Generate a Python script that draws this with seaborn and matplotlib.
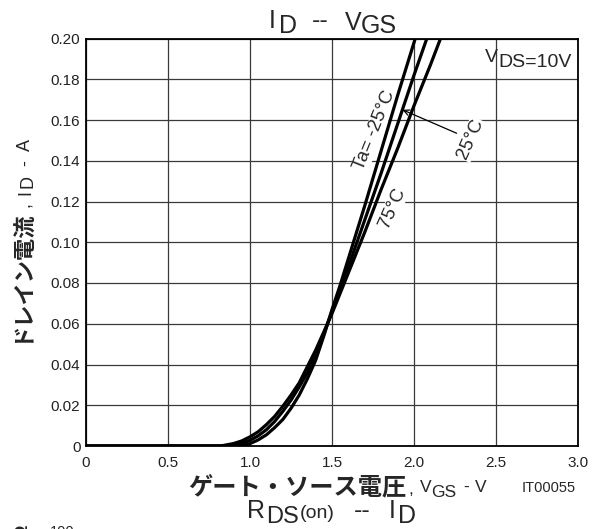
import matplotlib
matplotlib.use("Agg")
import matplotlib.pyplot as plt
import numpy as np
import pandas as pd
import seaborn as sns

# ---------------- data ----------------
vgs_m25 = [0.0, 0.95, 1.0, 1.05, 1.1, 1.15, 1.2, 1.25, 1.3, 1.35, 1.4, 1.45, 1.5, 1.55, 1.6, 1.7, 1.8, 1.9, 2.0, 2.05]
id_m25 = [0.0, 0.0, 0.0012, 0.003, 0.0055, 0.009, 0.013, 0.0185, 0.025, 0.033, 0.042, 0.054, 0.067, 0.079, 0.092, 0.118, 0.145, 0.172, 0.198, 0.211]

vgs_25 = [0.0, 0.88, 0.95, 1.0, 1.05, 1.1, 1.15, 1.2, 1.25, 1.3, 1.35, 1.4, 1.45, 1.5, 1.55, 1.6, 1.7, 1.8, 1.9, 2.0, 2.1]
id_25 = [0.0, 0.0, 0.0012, 0.0028, 0.005, 0.008, 0.012, 0.017, 0.0225, 0.029, 0.036, 0.045, 0.055, 0.066, 0.077, 0.088, 0.111, 0.134, 0.158, 0.182, 0.205]

vgs_75 = [0.0, 0.82, 0.9, 0.95, 1.0, 1.05, 1.1, 1.15, 1.2, 1.25, 1.3, 1.35, 1.4, 1.45, 1.5, 1.55, 1.6, 1.7, 1.8, 1.9, 2.0, 2.1, 2.2]
id_75 = [0.0, 0.0, 0.0012, 0.0025, 0.0045, 0.007, 0.0105, 0.0145, 0.0195, 0.025, 0.031, 0.039, 0.047, 0.056, 0.065, 0.075, 0.085, 0.105, 0.126, 0.146, 0.167, 0.187, 0.208]

temps = ["-25", "25", "75"]
xticks = [0, 0.5, 1.0, 1.5, 2.0, 2.5, 3.0]
xtick_labels = ["0", "0.5", "1.0", "1.5", "2.0", "2.5", "3.0"]
yticks = [0, 0.02, 0.04, 0.06, 0.08, 0.10, 0.12, 0.14, 0.16, 0.18, 0.20]
ytick_labels = ["0", "0.02", "0.04", "0.06", "0.08", "0.10", "0.12", "0.14", "0.16", "0.18", "0.20"]

df = pd.concat([
    pd.DataFrame({"vgs": vgs_m25, "id": id_m25, "temp": temps[0]}),
    pd.DataFrame({"vgs": vgs_25, "id": id_25, "temp": temps[1]}),
    pd.DataFrame({"vgs": vgs_75, "id": id_75, "temp": temps[2]}),
], ignore_index=True)

# ---------------- figure ----------------
sns.set_style("white")
plt.rcParams["font.family"] = ["Liberation Sans", "Noto Sans CJK JP", "DejaVu Sans"]
JP = ["Noto Sans CJK JP"]

W, H = 599, 529
fig = plt.figure(figsize=(W / 100, H / 100), dpi=100)
ax = fig.add_axes([86 / W, 1 - 446 / H, (578 - 86) / W, (446 - 38.5) / H])

sns.lineplot(data=df, x="vgs", y="id", hue="temp", palette={t: "black" for t in temps},
             estimator=None, sort=False, legend=False, lw=2.3, ax=ax, zorder=3)

ax.set_xlim(0, 3)
ax.set_ylim(0, 0.2)
ax.set_xticks(xticks)
ax.set_xticklabels(xtick_labels)
ax.set_yticks(yticks)
ax.set_yticklabels(ytick_labels)
ax.grid(True, color="#3a3a3a", lw=0.9)
ax.set_axisbelow(True)
ax.tick_params(axis="both", length=0, labelsize=11, colors="#222222")
ax.tick_params(axis="x", pad=7)
ax.tick_params(axis="y", pad=4)
for s in ax.spines.values():
    s.set_color("black")
    s.set_linewidth(1.3)
ax.set_xlabel("")
ax.set_ylabel("")

# curve labels
bb = dict(fc="white", ec="none", pad=0.6)
ax.text(1.76, 0.155, "Ta= -25°C", rotation=68, ha="center", va="center", fontsize=13.5,
        rotation_mode="anchor", bbox=bb, zorder=2.5)
ax.text(2.345, 0.1505, "25°C", rotation=66, ha="center", va="center", fontsize=13.5,
        rotation_mode="anchor", bbox=bb, zorder=2.5)
ax.text(1.87, 0.1168, "75°C", rotation=66, ha="center", va="center", fontsize=13.5,
        rotation_mode="anchor", bbox=bb, zorder=2.5)
ax.annotate("", xy=(1.93, 0.165), xytext=(2.26, 0.1535),
            arrowprops=dict(arrowstyle="->", lw=0.9, color="black", shrinkA=0, shrinkB=0), zorder=4)

# ---------------- text runs with shifted subscripts ----------------
renderer = fig.canvas.get_renderer()


def run(pieces, start, base, rot=False):
    pos = start
    for s, size, weight, dy, gap, fam in pieces:
        kw = dict(fontsize=size, fontweight=weight)
        if fam is not None:
            kw["family"] = fam
        if not rot:
            pos += gap
            t = fig.text(pos / W, 1 - (base + dy) / H, s, ha="left", va="baseline", **kw)
            pos += t.get_window_extent(renderer).width
        else:
            pos -= gap
            t = fig.text((base + dy) / W, 1 - pos / H, s, rotation=90, rotation_mode="anchor",
                         ha="left", va="baseline", **kw)
            pos -= t.get_window_extent(renderer).height


# top title
run([("I", 18, "normal", 0, 0, None), ("D", 18, "normal", 5, 3, None),
     ("--", 18, "normal", 0, 15, None), ("V", 18, "normal", 2, 16, None),
     ("GS", 18, "normal", 5, 0, None)], 269, 28)

# V_DS=10V
run([("V", 14, "normal", 0, 0, None), ("DS=10V", 14, "normal", 5, 0, None)], 485, 62)

# x label
run([("ゲート・ソース電圧", 17.5, "bold", 0, 0, JP), (",", 12.5, "normal", 0, 2, None),
     ("V", 12.5, "normal", -2, 7, None), ("GS", 12.5, "normal", 3, 0, None),
     ("-", 12.5, "normal", -2, 6, None), ("V", 12.5, "normal", -2, 6, None)], 188, 494)

# y label (rotated)
run([("ドレイン電流", 16, "bold", 0, 0, JP), (",", 13, "normal", 2, 2, None),
     ("I", 13, "normal", 2, 7, None), ("D", 13, "normal", 5, 2, None),
     ("-", 13, "normal", 2, 9, None), ("A", 13, "normal", 2, 9, None)], 342, 28, rot=True)

# IT number
fig.text(522 / W, 1 - 492 / H, "IT00055", fontsize=10.5, ha="left", va="baseline")

# second chart title (bottom)
run([("R", 18, "normal", 0, 0, None), ("DS", 17, "normal", 5, 1, None),
     ("(on)", 14, "normal", 0, 1, None), ("--", 18, "normal", 0, 19, None),
     ("I", 18, "normal", 0, 18, None), ("D", 18, "normal", 5, 3, None)], 247, 518)

# clipped pieces of the next chart (cut by the bottom edge, as in the reference)
fig.text(50 / W, 1 - 536 / H, "100", fontsize=10.5, ha="left", va="baseline")
fig.text(27 / W, 1 - 525 / H, "Ω", fontsize=14, fontweight="bold", rotation=90,
         rotation_mode="anchor", ha="right", va="baseline")

fig.savefig("out.png", dpi=100)
